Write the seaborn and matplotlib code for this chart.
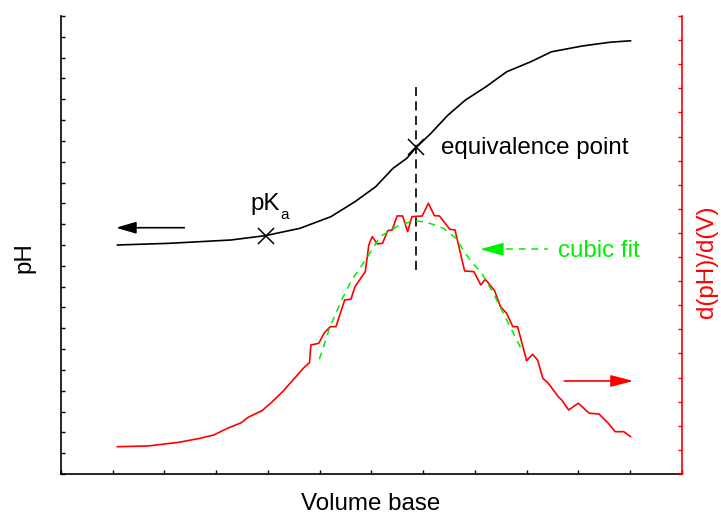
import matplotlib
matplotlib.use("Agg")
import matplotlib.pyplot as plt
import pandas as pd
import seaborn as sns

# Titration curve: pH against volume of base added (left axis)
volume_ph = [1.086, 2.085, 3.283, 3.950, 4.616, 5.215, 5.681, 6.081, 6.414, 6.680,
             6.866, 7.146, 7.478, 7.813, 8.211, 8.611, 9.076, 9.476, 10.075, 10.609, 11.009]
ph = [11.00, 11.08, 11.24, 11.45, 11.80, 12.36, 13.08, 13.80, 14.68, 15.16,
      15.69, 16.36, 17.24, 17.96, 18.60, 19.32, 19.80, 20.28, 20.56, 20.74, 20.81]

# First derivative d(pH)/d(V) (right axis)
volume_deriv = [1.086, 1.681, 2.280, 2.686, 2.951, 3.217, 3.484, 3.617, 3.884, 4.083,
                4.282, 4.483, 4.682, 4.802, 4.829, 4.982, 5.082, 5.202, 5.314, 5.482,
                5.602, 5.681, 5.880, 5.948, 6.014, 6.114, 6.214, 6.313, 6.400, 6.493,
                6.601, 6.699, 6.781, 6.980, 7.099, 7.214, 7.312, 7.513, 7.614, 7.799,
                7.979, 8.112, 8.199, 8.379, 8.491, 8.611, 8.730, 8.823, 8.997, 9.111,
                9.210, 9.310, 9.417, 9.610, 9.675, 9.809, 9.996, 10.209, 10.396, 10.576,
                10.709, 10.875, 11.009]
dph_dv = [1.133, 1.162, 1.315, 1.481, 1.618, 1.896, 2.129, 2.353, 2.627, 3.000,
          3.415, 3.900, 4.386, 4.618, 5.353, 5.423, 5.838, 6.112, 6.112, 7.220,
          7.249, 7.772, 8.394, 9.502, 9.846, 9.544, 9.573, 10.095, 10.124, 10.705,
          10.705, 10.054, 10.676, 10.705, 11.232, 10.718, 10.705, 10.154, 10.124, 8.423,
          8.394, 7.842, 8.079, 7.606, 6.942, 6.668, 6.112, 6.112, 4.701, 4.967,
          4.730, 3.971, 3.763, 3.207, 3.071, 2.656, 2.934, 2.519, 2.490, 2.104,
          1.755, 1.755, 1.548]

# Cubic fit of the derivative around its maximum
volume_fit = [4.991, 5.198, 5.424, 5.617, 5.907, 6.164, 6.487, 6.808, 7.067, 7.388,
              7.633, 7.710, 7.903, 8.130, 8.354, 8.580, 8.773, 8.903]
dph_dv_fit = [4.759, 6.112, 7.220, 8.050, 8.950, 9.846, 10.261, 10.510, 10.444, 10.195,
              9.780, 9.502, 8.880, 8.328, 7.498, 6.527, 5.697, 5.145]

# Marked points on the titration curve
pka_volume, pka_ph = 3.961, 11.41
eq_volume, eq_ph = 6.866, 15.69

RED = "#ff0000"
GREEN = "#00ee00"

sns.set_style("ticks")
plt.rcParams["font.family"] = ["Liberation Sans", "DejaVu Sans"]
plt.rcParams["text.color"] = "black"
FS = 17.4

df_ph = pd.DataFrame({"volume": volume_ph, "pH": ph})
df_d = pd.DataFrame({"volume": volume_deriv, "dpH": dph_dv})
df_fit = pd.DataFrame({"volume": volume_fit, "dpH": dph_dv_fit})

fig = plt.figure(figsize=(7.21, 5.14), dpi=100)
ax = fig.add_axes([61 / 721, 40 / 514, 621 / 721, 458 / 514])
ax2 = ax.twinx()

sns.lineplot(data=df_ph, x="volume", y="pH", ax=ax, color="black", lw=1.2,
             sort=False, estimator=None)
sns.lineplot(data=df_d, x="volume", y="dpH", ax=ax2, color=RED, lw=1.2,
             sort=False, estimator=None)
sns.lineplot(data=df_fit, x="volume", y="dpH", ax=ax2, color=GREEN, lw=1.1,
             linestyle=(0, (4.5, 3.8)), sort=False, estimator=None)

# markers for pKa and the equivalence point
ax.plot([pka_volume, eq_volume], [pka_ph, eq_ph], linestyle="none", marker="x",
        color="black", markersize=12, markeredgewidth=1.1)
ax.plot([eq_volume, eq_volume], [9.80, 18.60], color="black", lw=1.2,
        linestyle=(0, (5.5, 3.2)))

# limits and ticks
ax.set_xlim(0, 12)
ax.set_ylim(0, 22)
ax2.set_ylim(0, 19)
ax.set_xticks(range(0, 13))
ax.set_yticks(range(0, 23))
ax2.set_yticks(range(0, 20))
ax.tick_params(direction="in", length=3, width=1, labelleft=False,
               labelbottom=False, colors="black")
ax2.tick_params(axis="y", direction="in", length=3, width=1, labelright=False,
                colors=RED)
ax.set_xlabel("")
ax.set_ylabel("")
ax2.set_ylabel("")

for sp in ("top", "right"):
    ax.spines[sp].set_visible(False)
for sp in ("top", "left", "bottom"):
    ax2.spines[sp].set_visible(False)
ax.spines["left"].set_linewidth(1.2)
ax.spines["left"].set_color("black")
ax.spines["bottom"].set_linewidth(1.2)
ax.spines["bottom"].set_color("black")
ax2.spines["right"].set_color(RED)
ax2.spines["right"].set_linewidth(1.2)

# axis titles
fig.text(371 / 721, 1 - 509.5 / 514, "Volume base", ha="center", va="baseline",
         fontsize=FS, color="black")
fig.text(24 / 721, 1 - 258 / 514, "pH", ha="center", va="center", rotation=90,
         fontsize=FS, color="black")
fig.text(707 / 721, 1 - 262 / 514, "d(pH)/d(V)", ha="center", va="center",
         rotation=90, fontsize=FS, color=RED)

# annotations
ax.text(7.343, 15.37, "equivalence point", fontsize=FS, va="baseline", ha="left",
        color="black")
ax.text(3.652, 12.68, "pK", fontsize=FS, va="baseline", ha="left", color="black")
ax.text(4.242, 12.25, "a", fontsize=11, va="baseline", ha="left", color="black")
ax2.text(9.605, 9.017, "cubic fit", fontsize=FS, va="baseline", ha="left",
         color=GREEN)

# arrows pointing to the axis each curve belongs to
ax.annotate("", xy=(1.063, 11.83), xytext=(2.383, 11.83),
            arrowprops=dict(arrowstyle="-|>,head_length=1.22,head_width=0.36",
                            color="black", lw=1.2, shrinkA=0, shrinkB=0))
ax2.annotate("", xy=(11.059, 3.859), xytext=(9.726, 3.859),
             arrowprops=dict(arrowstyle="-|>,head_length=1.37,head_width=0.36",
                             color=RED, lw=1.2, shrinkA=0, shrinkB=0))
ax2.annotate("", xy=(8.097, 9.324), xytext=(8.50, 9.324),
             arrowprops=dict(arrowstyle="-|>,head_length=1.44,head_width=0.4",
                             color=GREEN, lw=1.1, shrinkA=0, shrinkB=0))
ax2.plot([8.60, 9.411], [9.324, 9.324], color=GREEN, lw=1.1,
         linestyle=(0, (4.5, 3.8)))

fig.savefig("out.png", dpi=100)
